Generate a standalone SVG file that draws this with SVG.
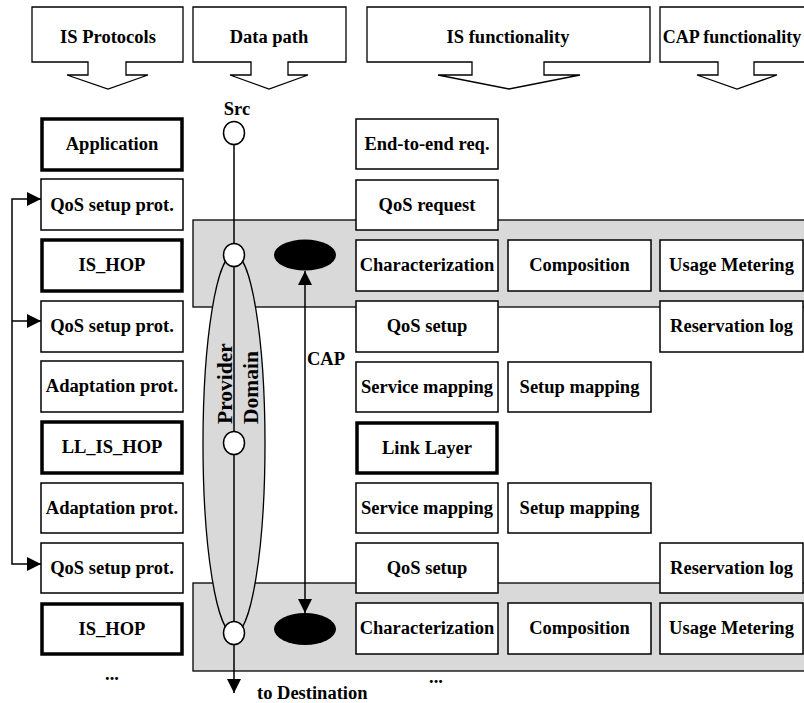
<svg xmlns="http://www.w3.org/2000/svg" width="804" height="703" viewBox="0 0 804 703">
<defs>
<style>
text{font-family:"Liberation Serif","Times New Roman",serif;font-weight:bold;font-size:18.5px;fill:#000}
.c{text-anchor:middle}
.box{fill:#fff;stroke:#000;stroke-width:1.5}
.thick{fill:#fff;stroke:#000;stroke-width:3.5}
.hdr{fill:#fff;stroke:#000;stroke-width:1.3}
.band{fill:#d9d9d9;stroke:#000;stroke-width:1.3}
.ln{fill:none;stroke:#000;stroke-width:1.5}
.node{fill:#fff;stroke:#000;stroke-width:1.5}
.rot{font-size:21.5px}
</style>
<marker id="ah" viewBox="0 0 14 14" markerWidth="14" markerHeight="14" refX="14" refY="7" orient="auto" markerUnits="userSpaceOnUse">
<path d="M0,0 L14,7 L0,14 Z" fill="#000"/>
</marker>
<marker id="ahs" viewBox="0 0 14 14" markerWidth="14" markerHeight="14" refX="14" refY="7" orient="auto-start-reverse" markerUnits="userSpaceOnUse">
<path d="M0,0 L14,7 L0,14 Z" fill="#000"/>
</marker>
</defs>

<g id="headers">
<g id="h-isprot"><path class="hdr" d="M32,7 H183 V62 H126 V75 H148 L108,89 L67,75 H88 V62 H32 Z"/><text class="c" x="108" y="43">IS Protocols</text></g>
<g id="h-datapath"><path class="hdr" d="M193,7 H346 V62 H288 V75 H308 L269,89 L230,75 H251 V62 H193 Z"/><text class="c" x="269" y="43">Data path</text></g>
<g id="h-isfunc"><path class="hdr" d="M367,7 H650 V62 H544 V75 H580 L509,89 L438,75 H472 V62 H367 Z"/><text class="c" x="508" y="43">IS functionality</text></g>
<g id="h-capfunc"><path class="hdr" d="M660,7 H814 V62 H754 V75 H777 L737,89 L697,75 H718 V62 H660 Z"/><text class="c" x="732" y="43" style="font-size:18px">CAP functionality</text></g>
</g>

<g id="bands">
<rect id="band1" class="band" x="193" y="220" width="620" height="87"/>
<rect id="band2" class="band" x="193" y="583" width="620" height="88"/>
</g>

<g id="provider-domain">
<ellipse class="band" cx="234" cy="444" rx="31" ry="190"/>
<text class="rot" transform="translate(232,424) rotate(-90)">Provider</text>
<text class="rot" transform="translate(258,424) rotate(-90)">Domain</text>
</g>

<g id="connectors">
<line class="ln" x1="234" y1="143" x2="234" y2="693" marker-end="url(#ah)"/>
<polyline class="ln" points="41,199 12,199 12,564 41,564" marker-start="url(#ahs)" marker-end="url(#ah)"/>
<line class="ln" x1="12" y1="321" x2="41" y2="321" marker-end="url(#ah)"/>
<line class="ln" x1="305" y1="271" x2="305" y2="613" marker-start="url(#ahs)" marker-end="url(#ah)"/>
</g>

<g id="path-nodes">
<ellipse id="src" class="node" cx="234" cy="133" rx="10.5" ry="11.5"/>
<ellipse id="hop1" class="node" cx="234" cy="255" rx="10.5" ry="11.5"/>
<ellipse id="hop2" class="node" cx="234" cy="443" rx="10.5" ry="11.5"/>
<ellipse id="hop3" class="node" cx="234" cy="633" rx="10.5" ry="11.5"/>
<ellipse id="cap1" cx="305" cy="255" rx="31" ry="15.5" fill="#000"/>
<ellipse id="cap2" cx="305" cy="629" rx="31" ry="16" fill="#000"/>
</g>

<g id="left-col">
<g id="l0"><rect class="thick" x="42" y="119" width="140" height="51"/><text class="c" x="112" y="150">Application</text></g>
<g id="l1"><rect class="box" x="41" y="179" width="142" height="51"/><text class="c" x="112" y="211">QoS setup prot.</text></g>
<g id="l2"><rect class="thick" x="42" y="240" width="140" height="51"/><text class="c" x="112" y="271">IS_HOP</text></g>
<g id="l3"><rect class="box" x="41" y="301" width="142" height="51"/><text class="c" x="112" y="332">QoS setup prot.</text></g>
<g id="l4"><rect class="box" x="41" y="361" width="142" height="51"/><text class="c" x="112" y="392">Adaptation prot.</text></g>
<g id="l5"><rect class="thick" x="42" y="422" width="140" height="51"/><text class="c" x="112" y="453">LL_IS_HOP</text></g>
<g id="l6"><rect class="box" x="41" y="483" width="142" height="50"/><text class="c" x="112" y="514">Adaptation prot.</text></g>
<g id="l7"><rect class="box" x="41" y="543" width="142" height="50"/><text class="c" x="112" y="574">QoS setup prot.</text></g>
<g id="l8"><rect class="thick" x="42" y="604" width="140" height="50"/><text class="c" x="112" y="635">IS_HOP</text></g>
<text class="c" x="112" y="680">...</text>
</g>

<g id="mid-col">
<g id="m0"><rect class="box" x="356" y="119" width="142" height="50"/><text class="c" x="427" y="150">End-to-end req.</text></g>
<g id="m1"><rect class="box" x="356" y="180" width="142" height="50"/><text class="c" x="427" y="211">QoS request</text></g>
<g id="m2"><rect class="box" x="356" y="240" width="142" height="51"/><text class="c" x="427" y="271">Characterization</text></g>
<g id="m3"><rect class="box" x="356" y="301" width="142" height="51"/><text class="c" x="427" y="332">QoS setup</text></g>
<g id="m4"><rect class="box" x="356" y="362" width="142" height="50"/><text class="c" x="427" y="393">Service mapping</text></g>
<g id="m5"><rect class="thick" x="357" y="423" width="140" height="50"/><text class="c" x="427" y="454">Link Layer</text></g>
<g id="m6"><rect class="box" x="356" y="483" width="142" height="50"/><text class="c" x="427" y="514">Service mapping</text></g>
<g id="m7"><rect class="box" x="356" y="543" width="142" height="50"/><text class="c" x="427" y="574">QoS setup</text></g>
<g id="m8"><rect class="box" x="356" y="603" width="142" height="51"/><text class="c" x="427" y="634">Characterization</text></g>
<text class="c" x="436" y="683">...</text>
</g>

<g id="col3">
<g id="c2"><rect class="box" x="508" y="240" width="143" height="51"/><text class="c" x="579.5" y="271">Composition</text></g>
<g id="c4"><rect class="box" x="508" y="362" width="143" height="50"/><text class="c" x="579.5" y="393">Setup mapping</text></g>
<g id="c6"><rect class="box" x="508" y="483" width="143" height="50"/><text class="c" x="579.5" y="514">Setup mapping</text></g>
<g id="c8"><rect class="box" x="508" y="603" width="143" height="51"/><text class="c" x="579.5" y="634">Composition</text></g>
</g>

<g id="col4">
<g id="u2"><rect class="box" x="660" y="240" width="143" height="51"/><text class="c" x="731.5" y="271">Usage Metering</text></g>
<g id="u3"><rect class="box" x="660" y="301" width="143" height="51"/><text class="c" x="731.5" y="332">Reservation log</text></g>
<g id="u7"><rect class="box" x="660" y="543" width="143" height="50"/><text class="c" x="731.5" y="574">Reservation log</text></g>
<g id="u8"><rect class="box" x="660" y="603" width="143" height="51"/><text class="c" x="731.5" y="634">Usage Metering</text></g>
</g>

<g id="labels">
<text class="c" x="237" y="115">Src</text>
<text x="307" y="365">CAP</text>
<text x="257" y="699">to Destination</text>
</g>
</svg>
